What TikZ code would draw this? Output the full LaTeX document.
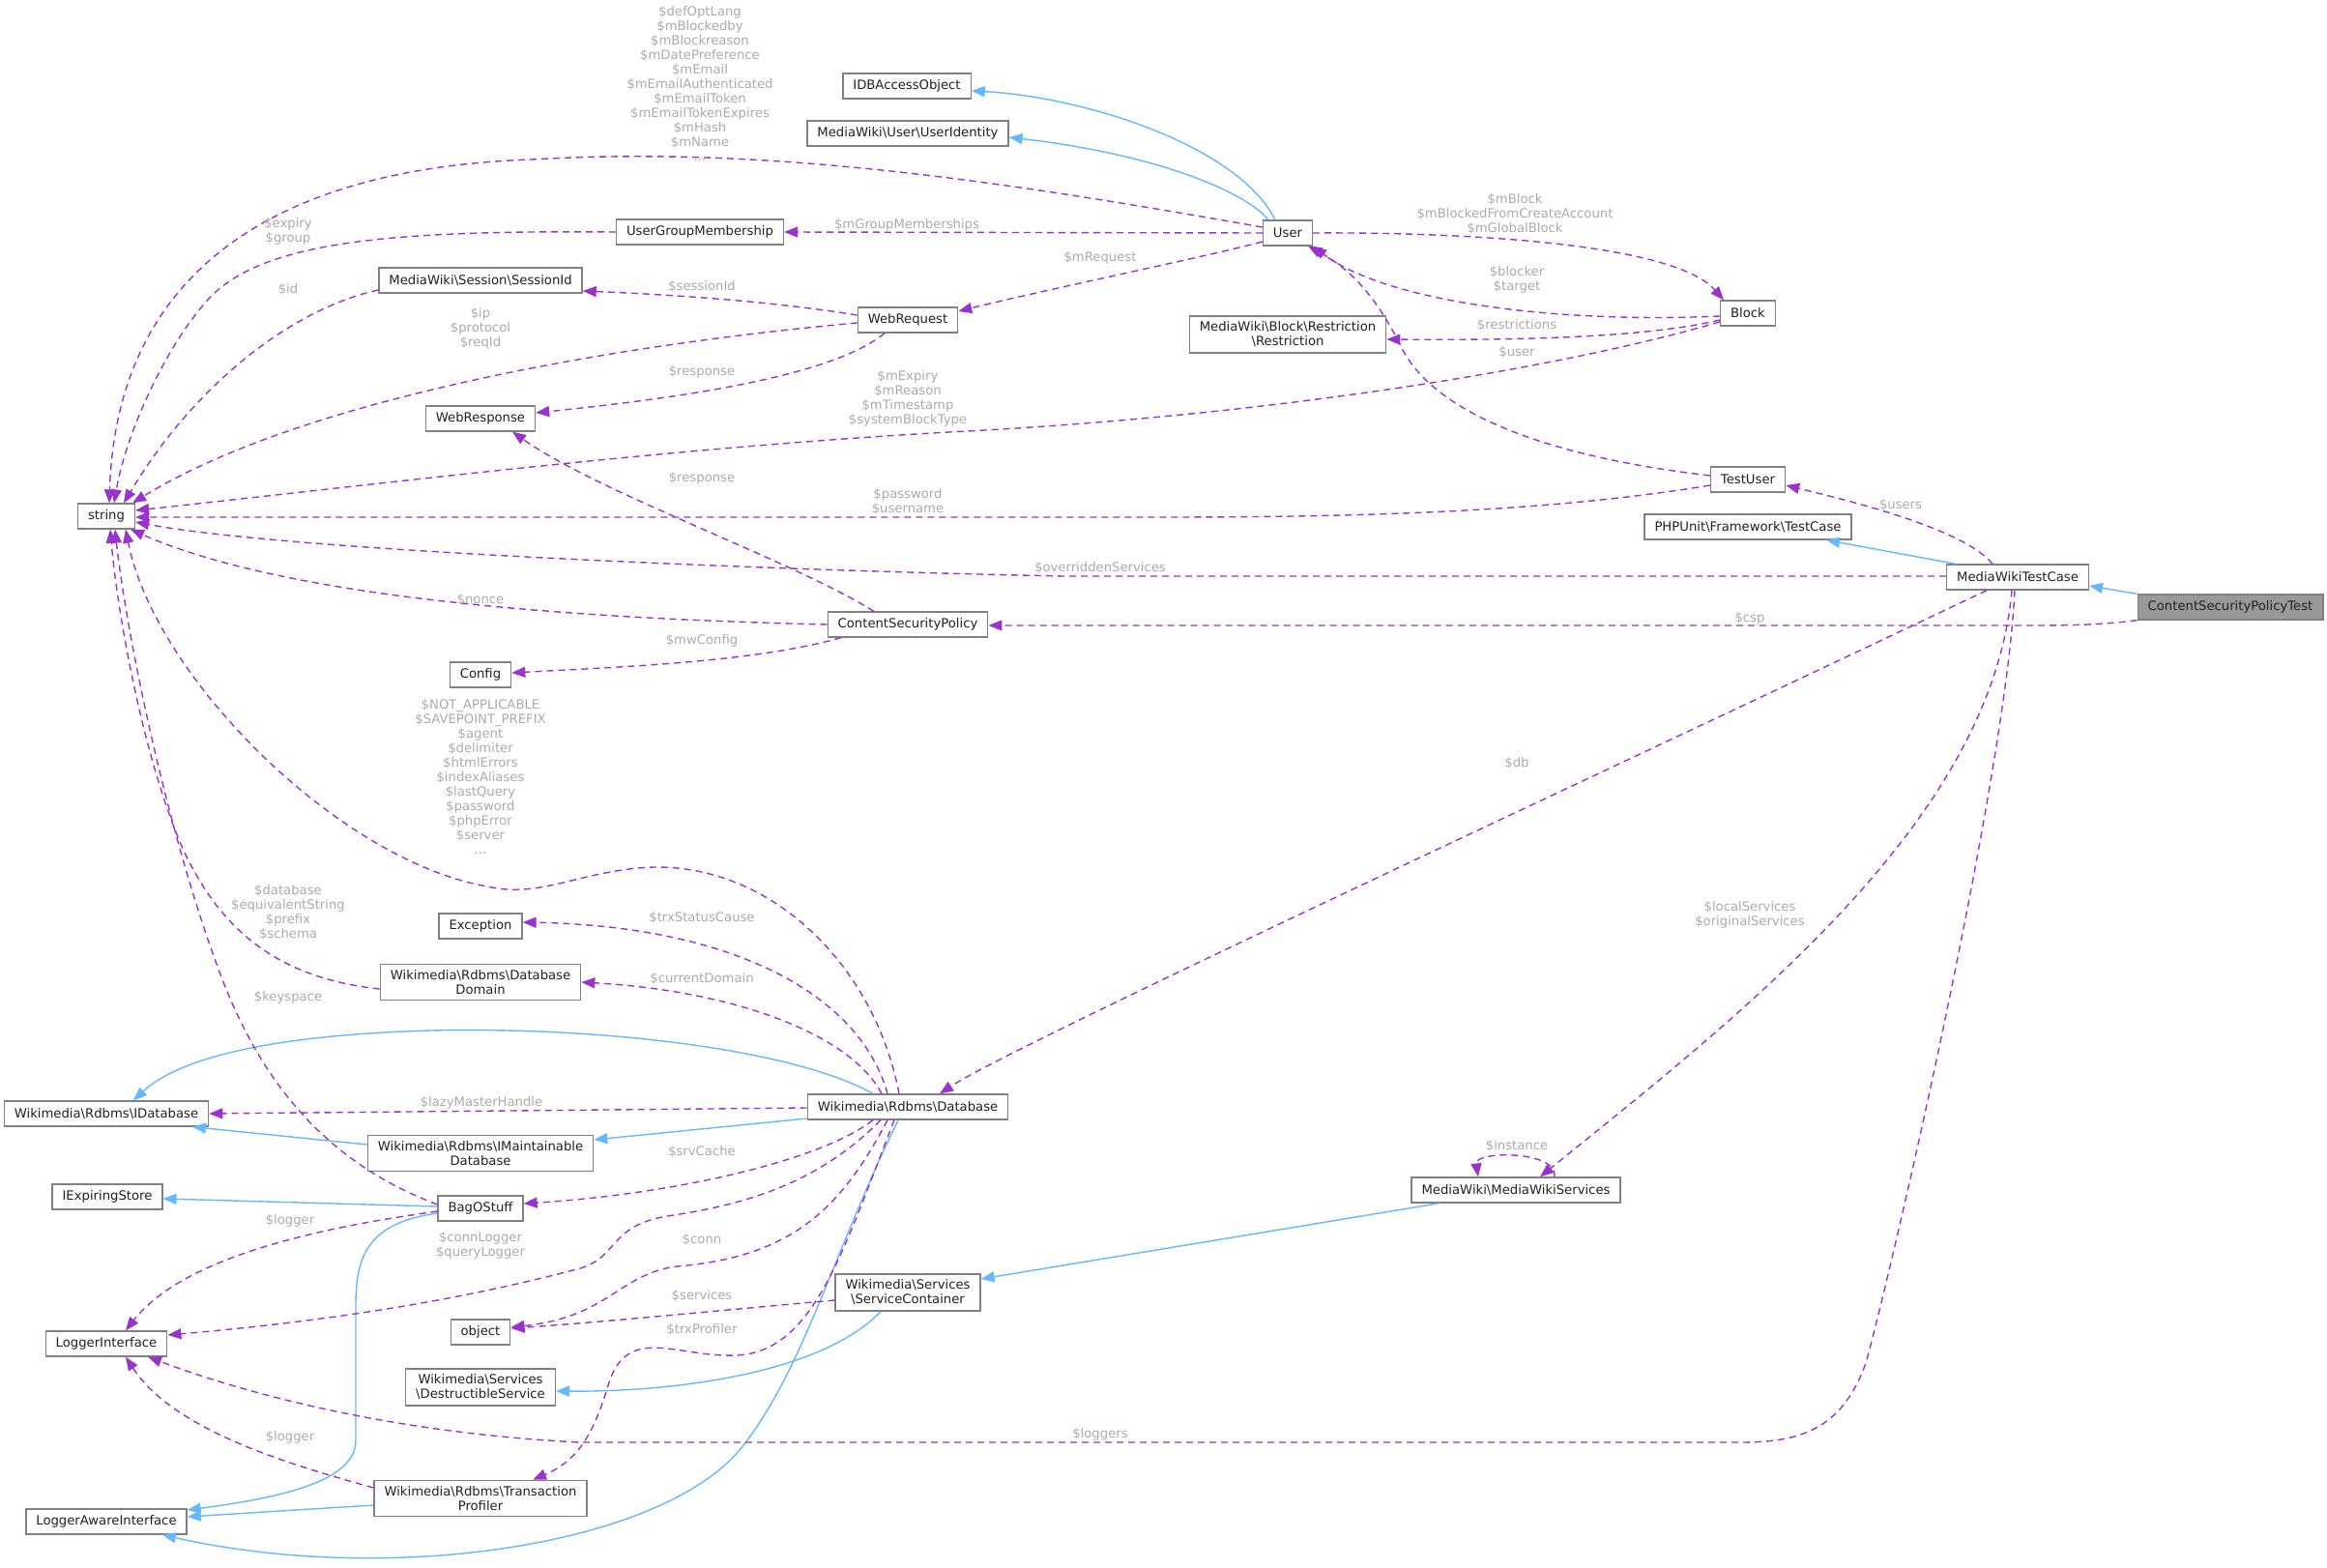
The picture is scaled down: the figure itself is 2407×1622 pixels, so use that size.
\documentclass[tikz,border=0pt]{standalone}
\usepackage{fontspec}
\setmainfont{DejaVu Sans}
\usetikzlibrary{arrows.meta}

\definecolor{edgeblue}{RGB}{99,184,255}
\definecolor{edgepurple}{RGB}{154,50,205}
\definecolor{labelgrey}{RGB}{170,170,170}
\definecolor{boxgrey}{RGB}{128,128,128}
\definecolor{focusgrey}{RGB}{153,153,153}

\begin{document}
\begin{tikzpicture}[x=1pt,y=-1pt, % one unit is one pixel of the reference, y runs down
	classbox/.style={draw=boxgrey, line width=1.3pt, fill=white, inner xsep=10.5pt, inner ysep=6pt,
		minimum height=26pt, align=center, text=black!87, font=\fontsize{13.2}{15}\selectfont},
	focusbox/.style={classbox, fill=focusgrey},
	edgelabel/.style={text=labelgrey, align=center, inner sep=0pt, font=\fontsize{13.2}{15}\selectfont},
	inheritline/.style={draw=edgeblue, line width=1.4pt, -{Triangle[length=14pt,width=11pt]}},
	memberline/.style={draw=edgepurple, line width=1.4pt, dash pattern=on 7pt off 5pt,
		-{Triangle[length=14pt,width=11pt]}}]
	
	% Fix the page to the size of the reference
	\useasboundingbox (0,0) rectangle (2407,1622);
	
	% Classes
	\node[classbox] (idbaccess) at (938,89) {IDBAccessObject};
	\node[classbox] (useridentity) at (939,138) {MediaWiki\textbackslash User\textbackslash UserIdentity};
	\node[classbox] (groupmembership) at (724,240) {UserGroupMembership};
	\node[classbox] (sessionid) at (497,290) {MediaWiki\textbackslash Session\textbackslash SessionId};
	\node[classbox] (webrequest) at (939,331) {WebRequest};
	\node[classbox] (webresponse) at (497,433) {WebResponse};
	\node[classbox] (str) at (110,534) {string};
	\node[classbox] (user) at (1332,241) {User};
	\node[classbox] (block) at (1808,324) {Block};
	\node[classbox] (restriction) at (1332,346) {MediaWiki\textbackslash Block\textbackslash Restriction\\\textbackslash Restriction};
	\node[classbox] (testuser) at (1808,496) {TestUser};
	\node[classbox] (testcase) at (1808,545) {PHPUnit\textbackslash Framework\textbackslash TestCase};
	\node[classbox] (mwtestcase) at (2087,597) {MediaWikiTestCase};
	\node[focusbox] (csptest) at (2307,628) {ContentSecurityPolicyTest};
	\node[classbox] (csp) at (939,646) {ContentSecurityPolicy};
	\node[classbox] (config) at (497,698) {Config};
	\node[classbox] (exception) at (497,958) {Exception};
	\node[classbox] (dbdomain) at (497,1016) {Wikimedia\textbackslash Rdbms\textbackslash Database\\Domain};
	\node[classbox] (idatabase) at (110,1152) {Wikimedia\textbackslash Rdbms\textbackslash IDatabase};
	\node[classbox] (database) at (939,1145) {Wikimedia\textbackslash Rdbms\textbackslash Database};
	\node[classbox] (maintainable) at (497,1193) {Wikimedia\textbackslash Rdbms\textbackslash IMaintainable\\Database};
	\node[classbox] (expiringstore) at (111,1238) {IExpiringStore};
	\node[classbox] (bagostuff) at (497,1250) {BagOStuff};
	\node[classbox] (servicecontainer) at (939,1337) {Wikimedia\textbackslash Services\\\textbackslash ServiceContainer};
	\node[classbox] (loggeriface) at (110,1390) {LoggerInterface};
	\node[classbox] (object) at (497,1378) {object};
	\node[classbox] (destructible) at (497,1435) {Wikimedia\textbackslash Services\\\textbackslash DestructibleService};
	\node[classbox] (trxprofiler) at (497,1550) {Wikimedia\textbackslash Rdbms\textbackslash Transaction\\Profiler};
	\node[classbox] (loggeraware) at (110,1574) {LoggerAwareInterface};
	\node[classbox] (mwservices) at (1568,1231) {MediaWiki\textbackslash MediaWikiServices};
	
	% Inheritance (solid blue)
	\draw[inheritline] ([xshift=-13pt]user.north) .. controls (1280,150) and (1120,100) .. ([yshift=-5pt]idbaccess.east);
	\draw[inheritline] ([xshift=-20pt]user.north) .. controls (1290,200) and (1200,160) .. ([yshift=-4pt]useridentity.east);
	\draw[inheritline] (csptest.north west) -- ([yshift=-9pt]mwtestcase.east);
	\draw[inheritline] ([xshift=-64pt]mwtestcase.north) -- ([xshift=81pt]testcase.south);
	\draw[inheritline] ([xshift=-36pt]database.north) .. controls (820,1085) and (620,1062) .. (446,1066)
		.. controls (300,1070) and (190,1090) .. ([xshift=28pt]idatabase.north);
	\draw[inheritline] ([yshift=-12pt]database.west) -- ([yshift=14pt]maintainable.east);
	\draw[inheritline] ([yshift=9pt]maintainable.west) -- ([xshift=89pt]idatabase.south);
	\draw[inheritline] ([yshift=2pt]bagostuff.west) -- ([yshift=-2pt]expiringstore.east);
	\draw[inheritline] ([yshift=-5pt]bagostuff.west) .. controls (380,1265) and (368,1300) .. (368,1350)
		-- (368,1490) .. controls (368,1530) and (300,1548) .. ([yshift=12pt]loggeraware.east);
	\draw[inheritline] ([yshift=-7pt]trxprofiler.west) -- ([yshift=5pt]loggeraware.east);
	\draw[inheritline] ([xshift=-10pt]database.south) .. controls (860,1300) and (830,1420) .. (765,1500)
		.. controls (680,1600) and (400,1640) .. ([xshift=58pt]loggeraware.south);
	\draw[inheritline] ([xshift=-28pt]servicecontainer.south) .. controls (850,1420) and (700,1440) .. ([yshift=-4pt]destructible.east);
	\draw[inheritline] ([xshift=-79pt]mwservices.south) -- ([yshift=14pt]servicecontainer.east);
	
	% Members (dashed purple)
	\draw[memberline] ([yshift=6pt]user.west) .. controls (1050,190) and (800,150) .. (550,165)
		.. controls (260,175) and (120,300) .. ([xshift=3pt]str.north);
	\draw[memberline] (user.west) -- (groupmembership.east);
	\draw[memberline] (groupmembership.west) .. controls (400,238) and (270,250) .. (215,310)
		.. controls (170,360) and (130,450) .. ([xshift=8pt]str.north);
	\draw[memberline] ([yshift=-10pt]sessionid.west) .. controls (300,320) and (200,400) .. ([xshift=18pt]str.north);
	\draw[memberline] ([yshift=5pt]webrequest.west) .. controls (800,312) and (700,305) .. ([yshift=-11pt]sessionid.east);
	\draw[memberline] ([yshift=-3pt]webrequest.west) .. controls (600,360) and (300,420) .. ([xshift=-3pt]str.north east);
	\draw[memberline] ([xshift=-24pt]webrequest.south) .. controls (860,390) and (700,412) .. ([yshift=6pt]webresponse.east);
	\draw[memberline] ([yshift=-9pt]user.west) .. controls (1250,265) and (1080,300) .. ([yshift=9pt]webrequest.east);
	\draw[memberline] (user.east) .. controls (1500,240) and (1730,250) .. ([xshift=-25pt]block.north);
	\draw[memberline] ([yshift=-3pt]block.west) .. controls (1600,335) and (1430,310) .. (user.south east);
	\draw[memberline] ([yshift=-7pt]block.west) .. controls (1700,350) and (1560,352) .. ([yshift=-5pt]restriction.east);
	\draw[memberline] ([yshift=-9pt]block.west) .. controls (1600,385) and (1300,430) .. (1000,446)
		.. controls (700,462) and (400,500) .. ([yshift=6pt]str.east);
	\draw[memberline] ([yshift=4pt]testuser.west) .. controls (1580,470) and (1480,420) .. (1450,360)
		.. controls (1425,310) and (1400,280) .. ([xshift=-5pt]user.south east);
	\draw[memberline] ([yshift=-6pt]testuser.west) .. controls (1600,530) and (1400,535) .. (1200,535)
		-- ([yshift=-1pt]str.east);
	\draw[memberline] ([xshift=-26pt]mwtestcase.north) .. controls (2030,545) and (1900,515) .. ([yshift=-6pt]testuser.east);
	\draw[memberline] ([yshift=1pt]mwtestcase.west) -- (1100,596) .. controls (800,590) and (300,570) .. ([yshift=-6pt]str.east);
	\draw[memberline] (csptest.south west) .. controls (2170,647) and (2130,647) .. (2100,647) -- ([yshift=-1pt]csp.east);
	\draw[memberline] (csp.west) .. controls (600,640) and (300,620) .. ([xshift=-5pt]str.south east);
	\draw[memberline] ([xshift=-35pt]csp.north) .. controls (820,580) and (620,510) .. ([xshift=33pt]webresponse.south);
	\draw[memberline] ([xshift=-69pt]csp.south) .. controls (780,685) and (640,690) .. ([yshift=2pt]config.east);
	\draw[memberline] ([xshift=-32pt]mwtestcase.south) .. controls (1700,780) and (1050,1080) .. ([xshift=33pt]database.north);
	\draw[memberline] ([xshift=-6pt]mwtestcase.south) .. controls (2060,850) and (1800,1050) .. ([xshift=25pt]mwservices.north);
	\draw[memberline] ([xshift=-3pt]mwtestcase.south) .. controls (2075,800) and (1960,1300) .. (1930,1410)
		.. controls (1905,1480) and (1860,1492) .. (1800,1492) -- (600,1492)
		.. controls (400,1482) and (250,1440) .. ([xshift=43pt]loggeriface.south);
	\draw[memberline] ([xshift=40pt]mwservices.north) .. controls (1612,1190) and (1525,1190) .. ([xshift=-39pt]mwservices.north);
	\draw[memberline] ([xshift=-9pt]database.north) .. controls (905,1000) and (800,895) .. (676,897)
		.. controls (600,900) and (560,930) .. (504,917)
		.. controls (350,890) and (160,700) .. ([xshift=20pt]str.south);
	\draw[memberline] ([xshift=-21pt]database.north) .. controls (890,1030) and (760,958) .. ([yshift=4pt]exception.east);
	\draw[memberline] ([xshift=-27pt]database.north) .. controls (880,1070) and (760,1025) .. (dbdomain.east);
	\draw[memberline] ([yshift=-7pt]dbdomain.west) .. controls (290,1012) and (230,965) .. (190,880)
		.. controls (150,790) and (122,640) .. ([xshift=4pt]str.south);
	\draw[memberline] ([yshift=4pt]bagostuff.west) .. controls (330,1200) and (265,1110) .. (225,1000)
		.. controls (170,850) and (130,650) .. ([xshift=9pt]str.south);
	\draw[memberline] ([yshift=-1pt]database.west) -- (idatabase.east);
	\draw[memberline] ([xshift=-36pt]database.south) .. controls (850,1200) and (700,1235) .. ([yshift=5pt]bagostuff.east);
	\draw[memberline] ([yshift=-3pt]bagostuff.west) .. controls (330,1270) and (190,1300) .. ([xshift=20pt]loggeriface.north);
	\draw[memberline] ([xshift=-28pt]database.south) .. controls (850,1220) and (780,1245) .. (690,1258)
		.. controls (630,1268) and (640,1300) .. (600,1312)
		.. controls (450,1352) and (300,1370) .. ([yshift=9pt]loggeriface.east);
	\draw[memberline] ([xshift=-21pt]database.south) .. controls (870,1250) and (820,1300) .. (700,1310)
		.. controls (640,1318) and (630,1362) .. ([yshift=5pt]object.east);
	\draw[memberline] ([yshift=-8pt]servicecontainer.west) .. controls (750,1355) and (620,1368) .. ([yshift=4pt]object.east);
	\draw[memberline] ([xshift=-14pt]database.south) .. controls (870,1300) and (840,1400) .. (760,1402)
		.. controls (700,1404) and (650,1370) .. (630,1430)
		.. controls (615,1480) and (600,1510) .. ([xshift=54pt]trxprofiler.north);
	\draw[memberline] ([yshift=11pt]trxprofiler.west) .. controls (300,1515) and (180,1480) .. ([xshift=20pt]loggeriface.south);
	
	% Member names
	\node[edgelabel] (l-useropts) at (724,86) {\$defOptLang\\\$mBlockedby\\\$mBlockreason\\\$mDatePreference\\\$mEmail\\\$mEmailAuthenticated\\\$mEmailToken\\\$mEmailTokenExpires\\\$mHash\\\$mName\\...};
	\node[edgelabel] (l-groups) at (938,233) {\$mGroupMemberships};
	\node[edgelabel] (l-expiry) at (298,239) {\$expiry\\\$group};
	\node[edgelabel] (l-id) at (298,299) {\$id};
	\node[edgelabel] (l-sessionid) at (726,296) {\$sessionId};
	\node[edgelabel] (l-ip) at (497,340) {\$ip\\\$protocol\\\$reqId};
	\node[edgelabel] (l-response) at (726,385) {\$response};
	\node[edgelabel] (l-expiryblock) at (939,412) {\$mExpiry\\\$mReason\\\$mTimestamp\\\$systemBlockType};
	\node[edgelabel] (l-cspresponse) at (726,495) {\$response};
	\node[edgelabel] (l-password) at (939,519) {\$password\\\$username};
	\node[edgelabel] (l-mblock) at (1567,221) {\$mBlock\\\$mBlockedFromCreateAccount\\\$mGlobalBlock};
	\node[edgelabel] (l-mrequest) at (1138,267) {\$mRequest};
	\node[edgelabel] (l-blocker) at (1569,289) {\$blocker\\\$target};
	\node[edgelabel] (l-restrictions) at (1569,336) {\$restrictions};
	\node[edgelabel] (l-user) at (1569,364) {\$user};
	\node[edgelabel] (l-users) at (1966,522) {\$users};
	\node[edgelabel] (l-overridden) at (1138,587) {\$overriddenServices};
	\node[edgelabel] (l-csp) at (1810,640) {\$csp};
	\node[edgelabel] (l-nonce) at (497,620) {\$nonce};
	\node[edgelabel] (l-mwconfig) at (726,663) {\$mwConfig};
	\node[edgelabel] (l-dbfields) at (497,803) {\$NOT\_APPLICABLE\\\$SAVEPOINT\_PREFIX\\\$agent\\\$delimiter\\\$htmlErrors\\\$indexAliases\\\$lastQuery\\\$password\\\$phpError\\\$server\\...};
	\node[edgelabel] (l-domain) at (298,944) {\$database\\\$equivalentString\\\$prefix\\\$schema};
	\node[edgelabel] (l-trxstatus) at (726,949) {\$trxStatusCause};
	\node[edgelabel] (l-currentdomain) at (726,1012) {\$currentDomain};
	\node[edgelabel] (l-keyspace) at (298,1032) {\$keyspace};
	\node[edgelabel] (l-db) at (1569,789) {\$db};
	\node[edgelabel] (l-services) at (1810,946) {\$localServices\\\$originalServices};
	\node[edgelabel] (l-lazymaster) at (498,1141) {\$lazyMasterHandle};
	\node[edgelabel] (l-srvcache) at (726,1191) {\$srvCache};
	\node[edgelabel] (l-logger) at (300,1263) {\$logger};
	\node[edgelabel] (l-connlogger) at (497,1288) {\$connLogger\\\$queryLogger};
	\node[edgelabel] (l-conn) at (726,1282) {\$conn};
	\node[edgelabel] (l-scservices) at (726,1340) {\$services};
	\node[edgelabel] (l-trxprofiler) at (726,1375) {\$trxProfiler};
	\node[edgelabel] (l-trxlogger) at (300,1487) {\$logger};
	\node[edgelabel] (l-loggers) at (1138,1484) {\$loggers};
	\node[edgelabel] (l-instance) at (1569,1185) {\$instance};
	
\end{tikzpicture}
\end{document}
